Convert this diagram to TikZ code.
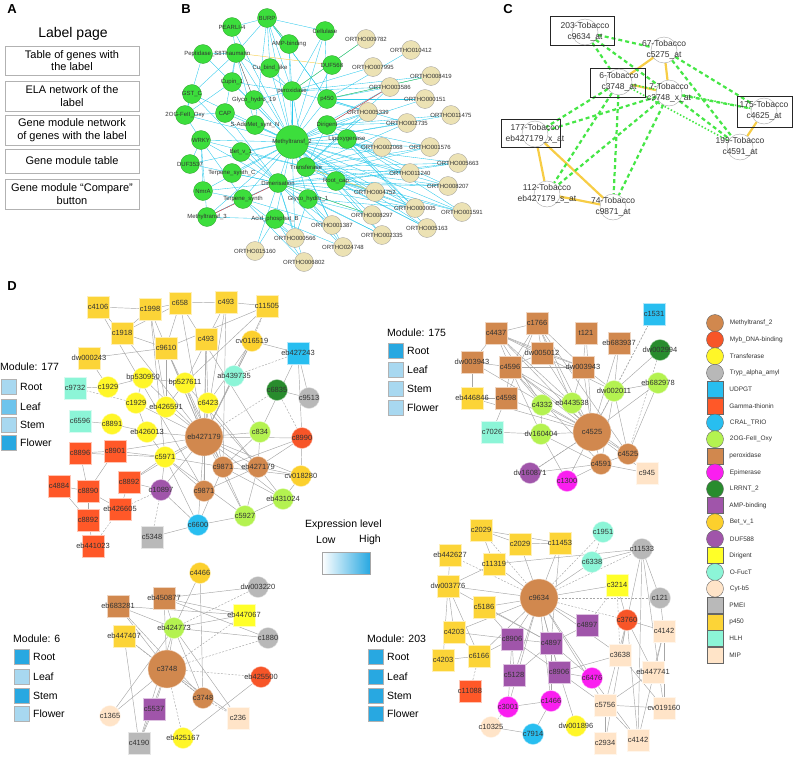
\documentclass[tikz,border=0pt]{standalone}
\usepackage{fontspec}
\setmainfont{Liberation Sans}
\usetikzlibrary{backgrounds}
\definecolor{cMeth}{RGB}{209,136,78}
\definecolor{cMyb}{RGB}{247,85,40}
\definecolor{cTrans}{RGB}{255,246,40}
\definecolor{cTryp}{RGB}{184,184,184}
\definecolor{cUDP}{RGB}{40,190,240}
\definecolor{cGam}{RGB}{255,88,40}
\definecolor{cCRAL}{RGB}{40,190,240}
\definecolor{cOG}{RGB}{180,242,80}
\definecolor{cPer}{RGB}{209,136,78}
\definecolor{cEpi}{RGB}{250,30,240}
\definecolor{cLRR}{RGB}{40,140,45}
\definecolor{cAMP}{RGB}{160,85,170}
\definecolor{cBet}{RGB}{252,208,45}
\definecolor{cDUF}{RGB}{160,85,170}
\definecolor{cDir}{RGB}{255,255,40}
\definecolor{cOFuc}{RGB}{140,245,215}
\definecolor{cCyt}{RGB}{255,228,200}
\definecolor{cPMEI}{RGB}{185,185,185}
\definecolor{cP450}{RGB}{252,212,55}
\definecolor{cHLH}{RGB}{140,245,215}
\definecolor{cMIP}{RGB}{255,228,200}
\definecolor{bGreen}{RGB}{60,222,60}
\definecolor{bTan}{RGB}{236,226,180}
\definecolor{bCyan}{RGB}{40,200,235}
\definecolor{tGold}{RGB}{247,205,70}
\definecolor{tGreen}{RGB}{70,230,70}
\definecolor{lgLight}{RGB}{168,216,240}
\definecolor{lgMid}{RGB}{110,196,236}
\definecolor{lgDark}{RGB}{40,168,225}
\begin{document}
\begin{tikzpicture}[x=1pt, y=-1pt, font=\fontsize{7.5}{9}\selectfont,
  every label/.style={text=black!80, inner sep=0pt},
  dc/.style={circle, fill=#1, draw=white!65!#1, minimum size=21pt, inner sep=0pt},
  ds/.style={rectangle, fill=#1, draw=white!65!#1, minimum size=22pt, inner sep=0pt},
  hub/.style={dc=cMeth, minimum size=38pt},
  ed/.style={gray!60!black!50, line width=0.45pt},
  edd/.style={ed, dash pattern=on 2pt off 1.5pt},
  gn/.style={circle, fill=bGreen, draw=bGreen!70!black, line width=0.3pt, minimum size=19pt, inner sep=0pt},
  tn/.style={circle, fill=bTan, draw=gray!80, line width=0.3pt, minimum size=19pt, inner sep=0pt},
  be/.style={bCyan, line width=0.35pt},
  tc/.style={circle, draw=gray!70, fill=white, minimum size=26pt, inner sep=0pt},
  gold/.style={tGold, line width=2.2pt},
  gdash/.style={tGreen, line width=2.2pt, dash pattern=on 4pt off 3pt},
  tcbox/.style={draw=black!85, line width=0.9pt, inner sep=0pt},
  abox/.style={draw=gray!60, minimum width=134pt, align=center, inner sep=0pt, font=\fontsize{11}{12.5}\selectfont},
  lg/.style={rectangle, fill=#1, draw=gray!60, minimum size=15pt, inner sep=0pt},
  lgc/.style={circle, fill=#1, draw=black!60, minimum size=17pt, inner sep=0pt},
  lgs/.style={rectangle, fill=#1, draw=black!60, minimum size=16pt, inner sep=0pt},
  panel/.style={font=\bfseries\fontsize{13}{15}\selectfont},
  modt/.style={anchor=west, font=\fontsize{10.5}{12}\selectfont, inner sep=0pt}]
\useasboundingbox (0,0) rectangle (793,758);

% A
\node[panel] (lA) at (12,9) {A};
\node[font=\fontsize{14}{16}\selectfont] (lpage) at (73,34) {Label page};
\node[abox, minimum height=29pt] (a1) at (72,60.5) {Table of genes with\\the label};
\node[abox, minimum height=30pt] (a2) at (72,96) {ELA network of the\\label};
\node[abox, minimum height=30pt] (a3) at (72,130) {Gene module network\\of genes with the label};
\node[abox, minimum height=24pt] (a4) at (72,161) {Gene module table};
\node[abox, minimum height=30pt] (a5) at (72,194) {Gene module “Compare”\\button};

% B
\node[panel] (lB) at (186,9) {B};
\begin{scope}[font=\fontsize{6}{7}\selectfont]
\node[gn, label=center:BURP] (burp) at (267,18) {};
\node[gn, label=center:PEARLI-4] (pearli) at (232,27) {};
\node[gn, label=center:Cellulase] (cellu) at (325,31) {};
\node[gn, label=center:AMP-binding] (ampb) at (289,44) {};
\node[gn, label=center:Thaumatin] (thaum) at (236,53) {};
\node[gn, label=center:Peptidase\_S8] (pept) at (203,54) {};
\node[gn, label=center:Cu\_bind\_like] (cubind) at (270,68) {};
\node[gn, label=center:DUF568] (duf568) at (332,65) {};
\node[gn, label=center:Cupin\_1] (cupin) at (232,82) {};
\node[gn, label=center:GST\_C] (gstc) at (192,94) {};
\node[gn, label=center:peroxidase] (perox) at (292,91) {};
\node[gn, label=center:Glyco\_hydro\_19] (gh19) at (254,100) {};
\node[gn, label=center:p450] (p450) at (327,99) {};
\node[gn, label=center:CAP] (cap) at (225,113) {};
\node[gn, label=center:2OG-FeII\_Oxy] (ogfe) at (185,115) {};
\node[gn, label=center:S-AdoMet\_synt\_N] (sado) at (255,125) {};
\node[gn, label=center:Dirigent] (dirig) at (327,125) {};
\node[gn, minimum size=33pt, label=center:Methyltransf\_2] (mtb) at (292,142) {};
\node[gn, label=center:Lipoxygenase] (lipox) at (347,139) {};
\node[gn, label=center:WRKY] (wrky) at (201,140) {};
\node[gn, label=center:Bet\_v\_1] (betv) at (241,152) {};
\node[gn, label=center:DUF3537] (duf3537) at (190,164) {};
\node[gn, label=center:Terpene\_synth\_C] (tpsc) at (232,173) {};
\node[gn, label=center:Transferase] (transf) at (306,167) {};
\node[gn, label=center:Dimerisation] (dimer) at (278,183) {};
\node[gn, label=center:Root\_cap] (rootcap) at (336,181) {};
\node[gn, label=center:NmrA] (nmra) at (203,191) {};
\node[gn, label=center:Terpene\_synth] (tps) at (243,199) {};
\node[gn, label=center:Glyco\_hydro\_1] (gh1) at (308,199) {};
\node[gn, label=center:Methyltransf\_3] (mt3) at (207,217) {};
\node[gn, label=center:Acid\_phosphat\_B] (acid) at (275,219) {};
\node[tn, label=center:ORTHO009782] (o9782) at (366,39) {};
\node[tn, label=center:ORTHO010412] (o10412) at (411,50) {};
\node[tn, label=center:ORTHO007995] (o7995) at (373,67) {};
\node[tn, label=center:ORTHO008419] (o8419) at (431,76) {};
\node[tn, label=center:ORTHO003586] (o3586) at (390,87) {};
\node[tn, label=center:ORTHO000151] (o151) at (425,99) {};
\node[tn, label=center:ORTHO005339] (o5339) at (368,112) {};
\node[tn, label=center:ORTHO011475] (o11475) at (451,115) {};
\node[tn, label=center:ORTHO002735] (o2735) at (407,123) {};
\node[tn, label=center:ORTHO002068] (o2068) at (382,147) {};
\node[tn, label=center:ORTHO001576] (o1576) at (430,147) {};
\node[tn, label=center:ORTHO005663] (o5663) at (458,163) {};
\node[tn, label=center:ORTHO011240] (o11240) at (410,173) {};
\node[tn, label=center:ORTHO008207] (o8207) at (448,186) {};
\node[tn, label=center:ORTHO004752] (o4752) at (375,192) {};
\node[tn, label=center:ORTHO000005] (o5) at (415,208) {};
\node[tn, label=center:ORTHO001591] (o1591) at (462,212) {};
\node[tn, label=center:ORTHO008297] (o8297) at (372,215) {};
\node[tn, label=center:ORTHO001387] (o1387) at (332,225) {};
\node[tn, label=center:ORTHO005163] (o5163) at (427,228) {};
\node[tn, label=center:ORTHO002335] (o2335) at (382,235) {};
\node[tn, label=center:ORTHO000566] (o566) at (295,238) {};
\node[tn, label=center:ORTHO024748] (o24748) at (343,247) {};
\node[tn, label=center:ORTHO015160] (o15160) at (255,251) {};
\node[tn, label=center:ORTHO006802] (o6802) at (304,262) {};
\end{scope}
\begin{scope}[on background layer]
\foreach \t in {burp,pearli,cellu,ampb,thaum,pept,cubind,duf568,cupin,gstc,perox,gh19,p450,cap,ogfe,sado,dirig,lipox,wrky,betv,duf3537,tpsc,transf,dimer,rootcap,nmra,tps,gh1,mt3,acid,o2735,o2068,o1576,o5663,o11240,o8207,o4752,o5,o1591,o8297,o1387,o5163,o2335,o566,o24748,o3586,o5339,o151,o11475}
  \draw[be] (mtb) -- (\t);
\foreach \t in {o4752,o5,o8297,o1387,o2335,o566,o24748,o15160,o6802,o11240,o1576,o5663,o8207,mt3,tps,nmra,wrky,gstc,cap,duf3537,betv,tpsc}
  \draw[be] (dimer) -- (\t);
\foreach \t in {o2068,o1576,o5663,o11240,o8207,o5,o1591,o5163,o3586,o2735,o5339,perox,dirig,betv,wrky}
  \draw[be] (transf) -- (\t);
\foreach \t in {o9782,o7995,o3586,o5339,o8419,burp,ampb,cubind,thaum,cellu,gh19,cupin}
  \draw[be] (perox) -- (\t);
\foreach \t in {o3586,o5339,o151,o2735,burp,cellu,o10412,o8419}
  \draw[be] (p450) -- (\t);
\foreach \t in {o2735,o2068,o3586,o5339,o11475,o5,o1576}
  \draw[be] (dirig) -- (\t);
\foreach \t in {o4752,o5,o8207,o1591,o5163,o2335,o5663}
  \draw[be] (rootcap) -- (\t);
\foreach \t in {o8297,o1387,o2335,o24748,o5,o566}
  \draw[be] (gh1) -- (\t);
\foreach \t in {o566,o15160,o6802,o24748,mt3}
  \draw[be] (acid) -- (\t);
\foreach \t in {o566,o6802,o1387,mt3,nmra}
  \draw[be] (tps) -- (\t);
\foreach \t in {pearli,cellu,ampb,thaum,cubind,p450,sado}
  \draw[be] (burp) -- (\t);
\foreach \t in {pept,cupin,gstc,pearli,cap,sado}
  \draw[be] (thaum) -- (\t);
\foreach \t in {gstc,cap,wrky,cupin,pept}
  \draw[be] (ogfe) -- (\t);
\foreach \t in {o5,o1591,o8207,o11240,o5163}
  \draw[be] (lipox) -- (\t);
\foreach \t in {mt3,nmra,duf3537,tps}
  \draw[be] (wrky) -- (\t);
\draw[green!70!black!70, line width=0.35pt] (perox) -- (o9782);
\draw[green!70!black!70, line width=0.35pt] (ampb) -- (burp);
\draw[green!70!black!70, line width=0.35pt] (dimer) -- (o8297);
\draw[green!70!black!70, line width=0.35pt] (p450) -- (o8419);
\draw[tGold, line width=0.4pt] (thaum) -- (duf568);
\draw[tGold, line width=0.4pt] (transf) -- (o4752);
\draw[red!80, line width=0.4pt] (dirig) -- (o3586);
\draw[red!80, line width=0.4pt] (mt3) -- (dimer);
\draw[black!80, line width=0.3pt] (thaum) -- (gh19);
\end{scope}

% C
\node[panel] (lC) at (508,9) {C};
\node[tcbox, minimum width=64pt, minimum height=29pt] (x203) at (582,30.5) {};
\node[tcbox, minimum width=55pt, minimum height=29pt] (x6) at (617.5,82.5) {};
\node[tcbox, minimum width=55pt, minimum height=31pt] (x175) at (764.5,111.5) {};
\node[tcbox, minimum width=59pt, minimum height=28pt] (x177) at (530.5,133) {};
\begin{scope}[font=\fontsize{8.5}{10.5}\selectfont]
\node[tc, label={[align=center]center:203-Tobacco\\c9634\_at}] (t203) at (585,32) {};
\node[tc, label={[align=center]center:67-Tobacco\\c5275\_at}] (t67) at (664,50) {};
\node[tc, label={[align=center]center:6-Tobacco\\c3748\_at}] (t6) at (619,82) {};
\node[tc, label={[align=center]center:7-Tobacco\\c3748\_x\_at}] (t7) at (669,93) {};
\node[tc, label={[align=center]center:175-Tobacco\\c4625\_at}] (t175) at (764,111) {};
\node[tc, label={[align=center]center:199-Tobacco\\c4591\_at}] (t199) at (740,147) {};
\node[tc, label={[align=center]center:177-Tobacco\\eb427179\_x\_at}] (t177) at (535,134) {};
\node[tc, label={[align=center]center:112-Tobacco\\eb427179\_s\_at}] (t112) at (547,194) {};
\node[tc, label={[align=center]center:74-Tobacco\\c9871\_at}] (t74) at (613,207) {};
\end{scope}
\begin{scope}[on background layer]
\foreach \a/\b in {t67/t6,t67/t7,t6/t7,t175/t199,t177/t112,t177/t74,t112/t74}
  \draw[gold] (\a) -- (\b);
\foreach \a/\b in {t203/t67,t203/t6,t203/t7,t67/t175,t67/t199,t7/t175,t7/t199,t6/t177,t7/t177,t6/t112,t7/t112,t6/t74,t7/t74}
  \draw[gdash] (\a) -- (\b);
\draw[tGreen, line width=1.6pt, dash pattern=on 1.5pt off 2pt] (t6) -- (t199);
\draw[tGreen, line width=1.6pt, dash pattern=on 1.5pt off 2pt] (t6) -- (t175);
\end{scope}

% D
\node[panel] (lD) at (12,286) {D};

% module 177
\node[modt] (m1t) at (0,367) {Module: 177};
\node[lg=lgLight] (m1r) at (9,387) {};
\node[lg=lgMid] (m1l) at (9,407) {};
\node[lg=lgLight] (m1s) at (9,425) {};
\node[lg=lgDark] (m1f) at (9,443) {};
\node[modt] (m1rt) at (20,387) {Root};
\node[modt] (m1lt) at (20,407) {Leaf};
\node[modt] (m1st) at (20,425) {Stem};
\node[modt] (m1ft) at (20,443) {Flower};
\node[ds=cP450, label=center:c4106] (a4106) at (98,307) {};
\node[ds=cP450, label=center:c1998] (a1998) at (150,309) {};
\node[ds=cP450, label=center:c658] (a658) at (180,303) {};
\node[ds=cP450, label=center:c493] (a493) at (226,302) {};
\node[ds=cP450, label=center:c11505] (a11505) at (267,306) {};
\node[ds=cP450, label=center:c1918] (a1918) at (122,333) {};
\node[ds=cP450, label=center:c9610] (a9610) at (166,348) {};
\node[ds=cP450, label=center:c493] (a493b) at (206,339) {};
\node[ds=cP450, label=center:dw000243] (adw243) at (89,358) {};
\node[dc=cBet, label=center:cv016519] (a16519) at (252,341) {};
\node[ds=cUDP, label=center:eb427243] (a427243) at (298,353) {};
\node[ds=cHLH, label=center:c9732] (a9732) at (75,388) {};
\node[ds=cHLH, label=center:c6596] (a6596) at (80,421) {};
\node[dc=cTrans, label=center:bp530950] (a530950) at (143,378) {};
\node[dc=cTrans, label=center:bp527611] (a527611) at (185,383) {};
\node[dc=cTrans, label=center:c1929] (a1929) at (108,387) {};
\node[dc=cTrans, label=center:c1929] (a1929b) at (136,403) {};
\node[dc=cTrans, label=center:eb426591] (a426591) at (166,407) {};
\node[dc=cOFuc, label=center:ab439735] (a439735) at (234,376) {};
\node[dc=cLRR, label=center:c6835] (a6835) at (277,390) {};
\node[dc=cTryp, label=center:c9513] (a9513) at (309,398) {};
\node[dc=cTrans, label=center:c8891] (a8891) at (112,424) {};
\node[dc=cTrans, label=center:eb426013] (a426013) at (147,432) {};
\node[dc=cTrans, label=center:c6423] (a6423) at (208,403) {};
\node[dc=cOG, label=center:c834] (a834) at (260,432) {};
\node[hub, label=center:eb427179] (ahub) at (204,437) {};
\node[dc=cMyb, label=center:c8990] (a8990) at (302,438) {};
\node[ds=cGam, label=center:c8896] (a8896) at (80,453) {};
\node[ds=cGam, label=center:c8901] (a8901) at (115,451) {};
\node[dc=cTrans, label=center:c5971] (a5971) at (165,457) {};
\node[dc=cMeth, label=center:c9871] (a9871) at (223,467) {};
\node[dc=cMeth, label=center:eb427179] (a427179) at (258,467) {};
\node[dc=cBet, label=center:cv018280] (a18280) at (301,476) {};
\node[ds=cGam, label=center:c4884] (a4884) at (59,486) {};
\node[ds=cGam, label=center:c8890] (a8890) at (88,491) {};
\node[ds=cGam, label=center:c8892] (a8892) at (129,482) {};
\node[dc=cDUF, label=center:c10897] (a10897) at (161,490) {};
\node[dc=cMeth, label=center:c9871] (a9871b) at (204,491) {};
\node[dc=cOG, label=center:eb431024] (a431024) at (283,499) {};
\node[ds=cGam, label=center:eb426605] (a426605) at (120,509) {};
\node[ds=cGam, label=center:c8892] (a8892b) at (88,520) {};
\node[dc=cOG, label=center:c5927] (a5927) at (245,516) {};
\node[dc=cCRAL, label=center:c6600] (a6600) at (198,525) {};
\node[ds=cPMEI, label=center:c5348] (a5348) at (152,537) {};
\node[ds=cGam, label=center:eb441023] (a441023) at (93,546) {};
\begin{scope}[on background layer]
\foreach \t in {a9610,a493b,a658,a493,a11505,a16519,a527611,a426591,a6423,a439735,a834,a8990,a5971,a9871,a427179,a18280,a9871b,a10897,a6600,a5927,a431024,a1929b,a426013,a8901,a8892,a1998,a1918,a530950}
  \draw[ed] (ahub) -- (\t);
\foreach \t in {a527611,a6423,a834,a8990,a18280,a5927,a431024,a6600,a5971,a9610}
  \draw[ed] (a9871) -- (\t);
\foreach \t in {a6423,a834,a8990,a18280,a431024,a5927,a9871b,a527611}
  \draw[ed] (a427179) -- (\t);
\foreach \t in {a8901,a8896,a8892,a426013,a6600,a5927,a9871b}
  \draw[ed] (a5971) -- (\t);
\foreach \a/\b in {a4106/a1998,a1998/a658,a658/a493,a493/a11505,a1918/a9610,a1918/a1998,a1918/a658,a9610/adw243,adw243/a1929,a1929/a530950,a9732/a1929,a6596/a8891,a8891/a426013,a8896/a8901,a4884/a8890,a8890/a8892b,a8892b/a441023,a426605/a8892,a8892/a10897,a10897/a6600,a5348/a6600,a5927/a6600,a431024/a5927,a18280/a431024,a8990/a18280,a427243/a9513,a427243/a16519,a6835/a9513,a427243/a834,a427243/a8990,a11505/a9610,a11505/a527611,a493/a9871,a658/a834,a1998/a5971,a4106/a1918,a1998/a426591,a9610/a426591,a1929b/a530950,a1929b/a426013,a8890/a8901,a8890/a426605,a4884/a8892b,a8896/a8890,a5971/a10897,a426591/a527611,a530950/a527611,a6423/a16519,a439735/a16519,a493b/a6423,a493b/a9871b,a658/a9610,a493/a527611,a4106/a9871b}
  \draw[ed] (\a) -- (\b);
\foreach \a/\b in {ahub/a6835,a427243/a439735,a5348/a10897,a441023/a426605,a9732/a1929b,a11505/a16519,a6835/a8990,a426605/a10897}
  \draw[edd] (\a) -- (\b);
\end{scope}

% module 175
\node[modt] (m2t) at (387,333) {Module: 175};
\node[lg=lgDark] (m2r) at (396,351) {};
\node[lg=lgLight] (m2l) at (396,370) {};
\node[lg=lgLight] (m2s) at (396,389) {};
\node[lg=lgLight] (m2f) at (396,408) {};
\node[modt] (m2rt) at (407,351) {Root};
\node[modt] (m2lt) at (407,370) {Leaf};
\node[modt] (m2st) at (407,389) {Stem};
\node[modt] (m2ft) at (407,408) {Flower};
\node[ds=cUDP, label=center:c1531] (b1531) at (654,314) {};
\node[ds=cPer, label=center:c4437] (b4437) at (496,333) {};
\node[ds=cPer, label=center:c1766] (b1766) at (537,323) {};
\node[ds=cPer, label=center:t121] (b121) at (586,333) {};
\node[ds=cPer, label=center:eb683937] (b683937) at (619,343) {};
\node[dc=cLRR, label=center:dw002994] (b2994) at (660,350) {};
\node[ds=cPer, label=center:dw003943] (b3943) at (472,362) {};
\node[ds=cPer, label=center:c4596] (b4596) at (510,367) {};
\node[ds=cPer, label=center:dw005012] (b5012) at (542,353) {};
\node[ds=cPer, label=center:dw003943] (b3943b) at (583,367) {};
\node[dc=cOG, label=center:eb682978] (b682978) at (658,383) {};
\node[dc=cOG, label=center:dw002011] (b2011) at (614,391) {};
\node[ds=cP450, label=center:eb446846] (b446846) at (472,398) {};
\node[ds=cPer, label=center:c4598] (b4598) at (506,398) {};
\node[dc=cOG, label=center:c4332] (b4332) at (542,405) {};
\node[dc=cOG, label=center:eb443538] (b443538) at (572,403) {};
\node[ds=cHLH, label=center:c7026] (b7026) at (492,432) {};
\node[dc=cOG, label=center:dv160404] (b160404) at (541,434) {};
\node[hub, label=center:c4525] (bhub) at (592,432) {};
\node[dc=cMeth, label=center:c4525] (b4525) at (628,454) {};
\node[dc=cMeth, label=center:c4591] (b4591) at (601,464) {};
\node[ds=cMIP, label=center:c945] (b945) at (647,473) {};
\node[dc=cDUF, label=center:dv160871] (b160871) at (530,473) {};
\node[dc=cEpi, label=center:c1300] (b1300) at (567,481) {};
\begin{scope}[on background layer]
\foreach \t in {b4437,b1766,b121,b683937,b3943,b4596,b5012,b3943b,b2011,b4598,b4332,b443538,b160404,b4525,b4591,b945,b160871,b1300,b446846,b682978}
  \draw[ed] (bhub) -- (\t);
\foreach \t in {b1766,b3943,b4596,b5012,b3943b,b4332,b443538,b2011}
  \draw[ed] (b4437) -- (\t);
\foreach \t in {b4596,b5012,b3943b,b4598,b443538,b4525}
  \draw[ed] (b1766) -- (\t);
\foreach \t in {b3943,b4598,b5012,b3943b,b443538,b4332,b160404,b4525,b4591}
  \draw[ed] (b4596) -- (\t);
\foreach \t in {b5012,b2011,b443538,b121}
  \draw[ed] (b3943b) -- (\t);
\foreach \t in {b682978,b2994,b4525,b4591}
  \draw[ed] (b2011) -- (\t);
\foreach \a/\b in {b446846/b3943,b446846/b4598,b160404/b7026,b160404/b4332,b160404/b4591,b160404/b1300,b4591/b4525,b4591/b945,b4591/b160871,b4591/b1300,b683937/b2011,b682978/b4525,b7026/b4598}
  \draw[ed] (\a) -- (\b);
\foreach \a/\b in {b1531/b2011,b1531/bhub,b2994/b4525,b160871/bhub}
  \draw[edd] (\a) -- (\b);
\end{scope}

% expression level
\node[font=\fontsize{10.5}{12}\selectfont, anchor=west, inner sep=0pt] (exl) at (305,525) {Expression level};
\node[font=\fontsize{10.5}{12}\selectfont, anchor=west, inner sep=0pt] (exlow) at (316,540) {Low};
\node[font=\fontsize{10.5}{12}\selectfont, anchor=west, inner sep=0pt] (exhigh) at (359,540) {High};
\node[draw=gray!70, left color=white, right color=lgDark, minimum width=48pt, minimum height=22pt, inner sep=0pt] (exbar) at (346,563) {};

% module 6
\node[modt] (m3t) at (13,639) {Module: 6};
\node[lg=lgDark] (m3r) at (22,657) {};
\node[lg=lgLight] (m3l) at (22,677) {};
\node[lg=lgDark] (m3s) at (22,696) {};
\node[lg=lgLight] (m3f) at (22,714) {};
\node[modt] (m3rt) at (33,657) {Root};
\node[modt] (m3lt) at (33,677) {Leaf};
\node[modt] (m3st) at (33,696) {Stem};
\node[modt] (m3ft) at (33,714) {Flower};
\node[dc=cBet, label=center:c4466] (c4466) at (200,573) {};
\node[dc=cTryp, label=center:dw003220] (c3220) at (258,587) {};
\node[ds=cPer, label=center:eb450877] (c450877) at (164,598) {};
\node[ds=cPer, label=center:eb683281] (c683281) at (118,606) {};
\node[ds=cDir, label=center:eb447067] (c447067) at (244,615) {};
\node[dc=cOG, label=center:eb424773] (c424773) at (174,628) {};
\node[ds=cP450, label=center:eb447407] (c447407) at (124,636) {};
\node[dc=cTryp, label=center:c1880] (c1880) at (268,638) {};
\node[hub, label=center:c3748] (chub) at (167,669) {};
\node[dc=cMyb, label=center:eb425500] (c425500) at (261,677) {};
\node[dc=cMeth, label=center:c3748] (c3748) at (203,698) {};
\node[ds=cAMP, label=center:c5537] (c5537) at (154,709) {};
\node[dc=cCyt, label=center:c1365] (c1365) at (110,716) {};
\node[ds=cMIP, label=center:c236] (c236) at (238,718) {};
\node[dc=cTrans, label=center:eb425167] (c425167) at (183,738) {};
\node[ds=cPMEI, label=center:c4190] (c4190) at (139,743) {};
\begin{scope}[on background layer]
\foreach \t in {c450877,c683281,c424773,c447407,c3748,c5537,c1365,c4190,c236}
  \draw[ed] (chub) -- (\t);
\foreach \t in {c4466,c450877,c447067,c1880,c683281,c3748,c236,c4190,c1365}
  \draw[ed] (c424773) -- (\t);
\foreach \a/\b in {c450877/c3220,c450877/c447067,c450877/c1880,c4466/c3748,c683281/c3748,c447407/c4190,c425500/c425167,c5537/c4190,c683281/c447067}
  \draw[ed] (\a) -- (\b);
\foreach \a/\b in {chub/c425500,chub/c1880,chub/c447067,chub/c425167,c447407/c3748,c3748/c236,c3220/c424773}
  \draw[edd] (\a) -- (\b);
\end{scope}

% module 203
\node[modt] (m4t) at (367,639) {Module: 203};
\node[lg=lgDark] (m4r) at (376,657) {};
\node[lg=lgDark] (m4l) at (376,677) {};
\node[lg=lgDark] (m4s) at (376,696) {};
\node[lg=lgDark] (m4f) at (376,714) {};
\node[modt] (m4rt) at (387,657) {Root};
\node[modt] (m4lt) at (387,677) {Leaf};
\node[modt] (m4st) at (387,696) {Stem};
\node[modt] (m4ft) at (387,714) {Flower};
\node[ds=cP450, label=center:c2029] (d2029) at (481,530) {};
\node[ds=cP450, label=center:c2029] (d2029b) at (520,544) {};
\node[ds=cP450, label=center:c11453] (d11453) at (560,543) {};
\node[dc=cOFuc, label=center:c1951] (d1951) at (603,532) {};
\node[ds=cP450, label=center:eb442627] (d442627) at (450,555) {};
\node[ds=cP450, label=center:c11319] (d11319) at (494,564) {};
\node[dc=cOFuc, label=center:c6338] (d6338) at (592,562) {};
\node[dc=cTryp, label=center:c11533] (d11533) at (642,549) {};
\node[ds=cP450, label=center:dw003776] (d3776) at (448,586) {};
\node[ds=cDir, label=center:c3214] (d3214) at (617,585) {};
\node[hub, label=center:c9634] (dhub) at (539,598) {};
\node[dc=cTryp, label=center:c121] (d121) at (660,598) {};
\node[ds=cP450, label=center:c5186] (d5186) at (484,607) {};
\node[dc=cMyb, label=center:c3760] (d3760) at (627,620) {};
\node[ds=cAMP, label=center:c4897] (d4897) at (587,625) {};
\node[ds=cMIP, label=center:c4142] (d4142) at (664,631) {};
\node[ds=cP450, label=center:c4203] (d4203) at (454,632) {};
\node[ds=cAMP, label=center:c8906] (d8906) at (512,639) {};
\node[ds=cAMP, label=center:c4897] (d4897b) at (551,643) {};
\node[ds=cMIP, label=center:c3638] (d3638) at (620,655) {};
\node[ds=cP450, label=center:c4203] (d4203b) at (443,660) {};
\node[ds=cP450, label=center:c6166] (d6166) at (479,656) {};
\node[ds=cMIP, label=center:eb447741] (d447741) at (653,672) {};
\node[ds=cAMP, label=center:c5128] (d5128) at (514,675) {};
\node[ds=cAMP, label=center:c8906] (d8906b) at (559,672) {};
\node[dc=cEpi, label=center:c6476] (d6476) at (592,678) {};
\node[ds=cGam, label=center:c11088] (d11088) at (470,691) {};
\node[dc=cEpi, label=center:c1466] (d1466) at (551,701) {};
\node[dc=cEpi, label=center:c3001] (d3001) at (508,707) {};
\node[ds=cMIP, label=center:c5756] (d5756) at (605,705) {};
\node[ds=cMIP, label=center:cv019160] (d19160) at (664,708) {};
\node[dc=cCyt, label=center:c10325] (d10325) at (491,727) {};
\node[dc=cTrans, label=center:dw001896] (d1896) at (576,726) {};
\node[dc=cCRAL, label=center:c7914] (d7914) at (533,734) {};
\node[ds=cMIP, label=center:c2934] (d2934) at (605,743) {};
\node[ds=cMIP, label=center:c4142] (d4142b) at (638,740) {};
\begin{scope}[on background layer]
\foreach \t in {d2029b,d11453,d11319,d6338,d3776,d3214,d5186,d4897,d8906,d4897b,d5128,d8906b,d6476,d1466,d3001,d5756,d3638,d6166,d4203}
  \draw[ed] (dhub) -- (\t);
\foreach \t in {d11533,d3760,d121,d442627,d2029,d1951}
  \draw[edd] (dhub) -- (\t);
\foreach \t in {d11533,d3214,d3638,d5756,d4142,d4142b,d447741,d2934}
  \draw[ed] (d3760) -- (\t);
\foreach \t in {d121,d19160,d4142b,d6338,d11319}
  \draw[ed] (d11533) -- (\t);
\foreach \t in {d8906,d5128,d8906b,d4897,d6476,d1466,d5186,d3776,d11453}
  \draw[ed] (d4897b) -- (\t);
\foreach \t in {d5186,d6166,d4203,d5128,d3001,d8906b}
  \draw[ed] (d8906) -- (\t);
\foreach \t in {d6476,d3638,d1896,d5756}
  \draw[ed] (d8906b) -- (\t);
\foreach \t in {d442627,d11319,d4203,d4203b,d6166}
  \draw[ed] (d3776) -- (\t);
\foreach \a/\b in {d2029/d2029b,d2029/d11453,d2029/d11319,d2029b/d11453,d6166/d4203b,d6166/d4203,d5756/d19160,d5756/d2934,d5756/d4142b,d5756/d447741,d1466/d7914,d1466/d3001,d10325/d7914,d19160/d4142,d447741/d4142,d4142/d4142b,d121/d4142,d3638/d19160,d6476/d4142b}
  \draw[ed] (\a) -- (\b);
\foreach \a/\b in {d11088/d6166,d3001/d10325,d6338/d1951,d3214/d3638,d4897/d3214}
  \draw[edd] (\a) -- (\b);
\end{scope}

% legend
\begin{scope}[font=\fontsize{6.5}{7.5}\selectfont, label distance=6pt]
\node[lgc=cMeth, label=right:Methyltransf\_2] (kMeth) at (715,323) {};
\node[lgc=cMyb, label=right:Myb\_DNA-binding] (kMyb) at (715,339.6) {};
\node[lgc=cTrans, label=right:Transferase] (kTrans) at (715,356.2) {};
\node[lgc=cTryp, label=right:Tryp\_alpha\_amyl] (kTryp) at (715,372.8) {};
\node[lgs=cUDP, label=right:UDPGT] (kUDP) at (715,389.4) {};
\node[lgs=cGam, label=right:Gamma-thionin] (kGam) at (715,406) {};
\node[lgc=cCRAL, label=right:CRAL\_TRIO] (kCRAL) at (715,422.6) {};
\node[lgc=cOG, label=right:2OG-FeII\_Oxy] (kOG) at (715,439.2) {};
\node[lgs=cPer, label=right:peroxidase] (kPer) at (715,455.8) {};
\node[lgc=cEpi, label=right:Epimerase] (kEpi) at (715,472.4) {};
\node[lgc=cLRR, label=right:LRRNT\_2] (kLRR) at (715,489) {};
\node[lgs=cAMP, label=right:AMP-binding] (kAMP) at (715,505.6) {};
\node[lgc=cBet, label=right:Bet\_v\_1] (kBet) at (715,522.2) {};
\node[lgc=cDUF, label=right:DUF588] (kDUF) at (715,538.8) {};
\node[lgs=cDir, label=right:Dirigent] (kDir) at (715,555.4) {};
\node[lgc=cOFuc, label=right:O-FucT] (kOFuc) at (715,572) {};
\node[lgc=cCyt, label=right:Cyt-b5] (kCyt) at (715,588.6) {};
\node[lgs=cPMEI, label=right:PMEI] (kPMEI) at (715,605.2) {};
\node[lgs=cP450, label=right:p450] (kP450) at (715,621.8) {};
\node[lgs=cHLH, label=right:HLH] (kHLH) at (715,638.4) {};
\node[lgs=cMIP, label=right:MIP] (kMIP) at (715,655) {};
\end{scope}
\end{tikzpicture}
\end{document}
